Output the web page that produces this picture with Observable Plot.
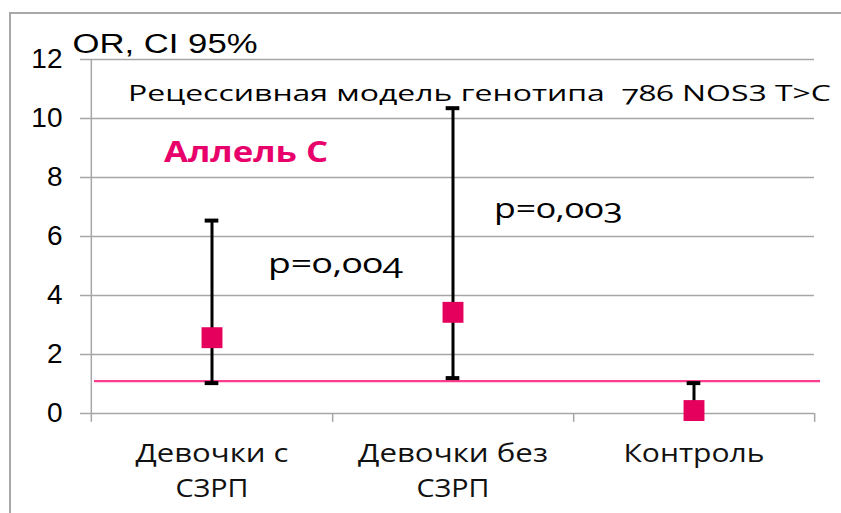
<!DOCTYPE html>
<html>
<head>
<meta charset="utf-8">
<script src="https://cdn.jsdelivr.net/npm/d3@7"></script>
<script src="https://cdn.jsdelivr.net/npm/@observablehq/plot@0.6"></script>
<style>
  html, body { margin: 0; padding: 0; background: #fff; }
  #wrap { position: relative; width: 841px; height: 513px; overflow: hidden; background: #fff; }
  #frame { position: absolute; left: 9px; top: 12px; width: 900px; height: 600px; border: 2px solid #a8a8a8; }
  #chart { position: absolute; left: 0; top: 0; }
</style>
</head>
<body>
<div id="wrap"><div id="frame"></div><div id="chart"></div></div>
<script>
const groups = ["Девочки с СЗРП", "Девочки без СЗРП", "Контроль"];
const groupLine1 = ["Девочки с", "Девочки без", "Контроль"];
const groupLine2 = ["СЗРП", "СЗРП", ""];
const orValues = [2.57, 3.43, 0.1];
const ciLower = [1.03, 1.2, 0.02];
const ciUpper = [6.54, 10.35, 1.03];
const referenceLine = [1.1];
const yTicks = [0, 2, 4, 6, 8, 10, 12];
const yTitle = "OR, CI 95%";
const modelTitle = "Рецессивная модель генотипа  786 NOS3 T>C";
const modelTitleParts = ["Рецессивная модель генотипа  ", "786", " NOS3 T>C"];
const alleleTitle = "Аллель С";
const pValues = ["p=0,004", "p=0,003"];

const data = groups.map((g, i) => ({group: g, l1: groupLine1[i], l2: groupLine2[i], or: orValues[i], lo: ciLower[i], hi: ciUpper[i]}));

const W = 841, H = 513, mL = 90, mR = 27, mT = 59, mB = 100;
const bw = (W - mL - mR) / groups.length;
const pink = "#e6005e";

const chart = Plot.plot({
  width: W, height: H,
  marginLeft: mL, marginRight: mR, marginTop: mT, marginBottom: mB,
  style: {fontFamily: "'Liberation Sans', Arial, sans-serif", background: "transparent", overflow: "visible"},
  x: {domain: groups, padding: 0, axis: null},
  y: {domain: [0, 12], axis: null},
  marks: [
    Plot.ruleY(yTicks, {stroke: "#a6a6a6", strokeWidth: 1.5, insetLeft: -10}),
    Plot.ruleX([groups[0]], {x: d => d, y1: -0.3, y2: 12, dx: -bw / 2, stroke: "#a6a6a6", strokeWidth: 1.5}),
    Plot.ruleX(groups, {x: d => d, y1: -0.3, y2: 0, dx: bw / 2, stroke: "#a6a6a6", strokeWidth: 1.5}),
    Plot.ruleY(referenceLine, {stroke: "#ff3d8e", strokeWidth: 2.2, insetLeft: 4, insetRight: -6}),
    Plot.ruleX(data, {x: "group", y1: "lo", y2: "hi", stroke: "#000", strokeWidth: 3}),
    Plot.tickY(data, {x: "group", y: "hi", stroke: "#000", strokeWidth: 4, insetLeft: bw / 2 - 7, insetRight: bw / 2 - 7}),
    Plot.tickY(data, {x: "group", y: "lo", stroke: "#000", strokeWidth: 4, insetLeft: bw / 2 - 7, insetRight: bw / 2 - 7}),
    Plot.dot(data, {x: "group", y: "or", symbol: "square", r: 11.8, fill: pink, stroke: "none"}),
    Plot.text(yTicks, {y: d => d, text: d => String(d), frameAnchor: "left", textAnchor: "end", dx: -28, fontSize: 28, fill: "#000"}),
    Plot.text(data, {x: "group", y: 0, text: "l1", lineAnchor: "bottom", dy: 48, fontSize: 25, fontFamily: "'Open Sans', sans-serif", fill: "#111"}),
    Plot.text(data, {x: "group", y: 0, text: "l2", lineAnchor: "bottom", dy: 83, fontSize: 25, fontFamily: "'Open Sans', sans-serif", fill: "#111"}),
    Plot.text([yTitle], {frameAnchor: "top-left", text: d => d, textAnchor: "start", lineAnchor: "bottom", dx: -18, dy: -7, fontSize: 27, fill: "#000"}),
    Plot.text([modelTitle], {x: () => groups[0], y: 10.61, text: d => d, textAnchor: "start", lineAnchor: "bottom", dx: -84, fontSize: 22, fontFamily: "'Open Sans', sans-serif", fill: "#000"}),
    Plot.text([alleleTitle], {x: () => groups[0], y: 8.54, text: d => d, textAnchor: "start", lineAnchor: "bottom", dx: -48, fontSize: 28, fontWeight: "bold", fontFamily: "'Open Sans', sans-serif", fill: "#e8006b"}),
    Plot.text([pValues[0]], {x: () => groups[0], y: 4.75, text: d => d, textAnchor: "start", lineAnchor: "bottom", dx: 56, fontSize: 28, fontFamily: "'Open Sans', sans-serif", fill: "#000"}),
    Plot.text([pValues[1]], {x: () => groups[1], y: 6.64, text: d => d, textAnchor: "start", lineAnchor: "bottom", dx: 41, fontSize: 28, fontFamily: "'Open Sans', sans-serif", fill: "#000"})
  ]
});

const stretch = new Map([
  [yTitle, 185], [modelTitle, 703], [alleleTitle, 164], [pValues[0], 135], [pValues[1], 129],
  ["Девочки с", 153], ["Девочки без", 190], ["Контроль", 141], ["СЗРП", 73]
]);
d3.select(chart).selectAll("text").each(function() {
  const t = this.textContent;
  const sel = d3.select(this);
  if (stretch.has(t)) {
    sel.attr("textLength", stretch.get(t)).attr("lengthAdjust", "spacingAndGlyphs");
  }
  if (t === pValues[0] || t === pValues[1]) {
    sel.style("font-variant-numeric", "oldstyle-nums");
  }
  if (t === modelTitle) {
    sel.text(null);
    modelTitleParts.forEach((p, i) => {
      const ts = sel.append("tspan").text(p);
      if (i === 1) ts.style("font-variant-numeric", "oldstyle-nums");
    });
  }
});
document.getElementById("chart").appendChild(chart);
</script>
</body>
</html>
